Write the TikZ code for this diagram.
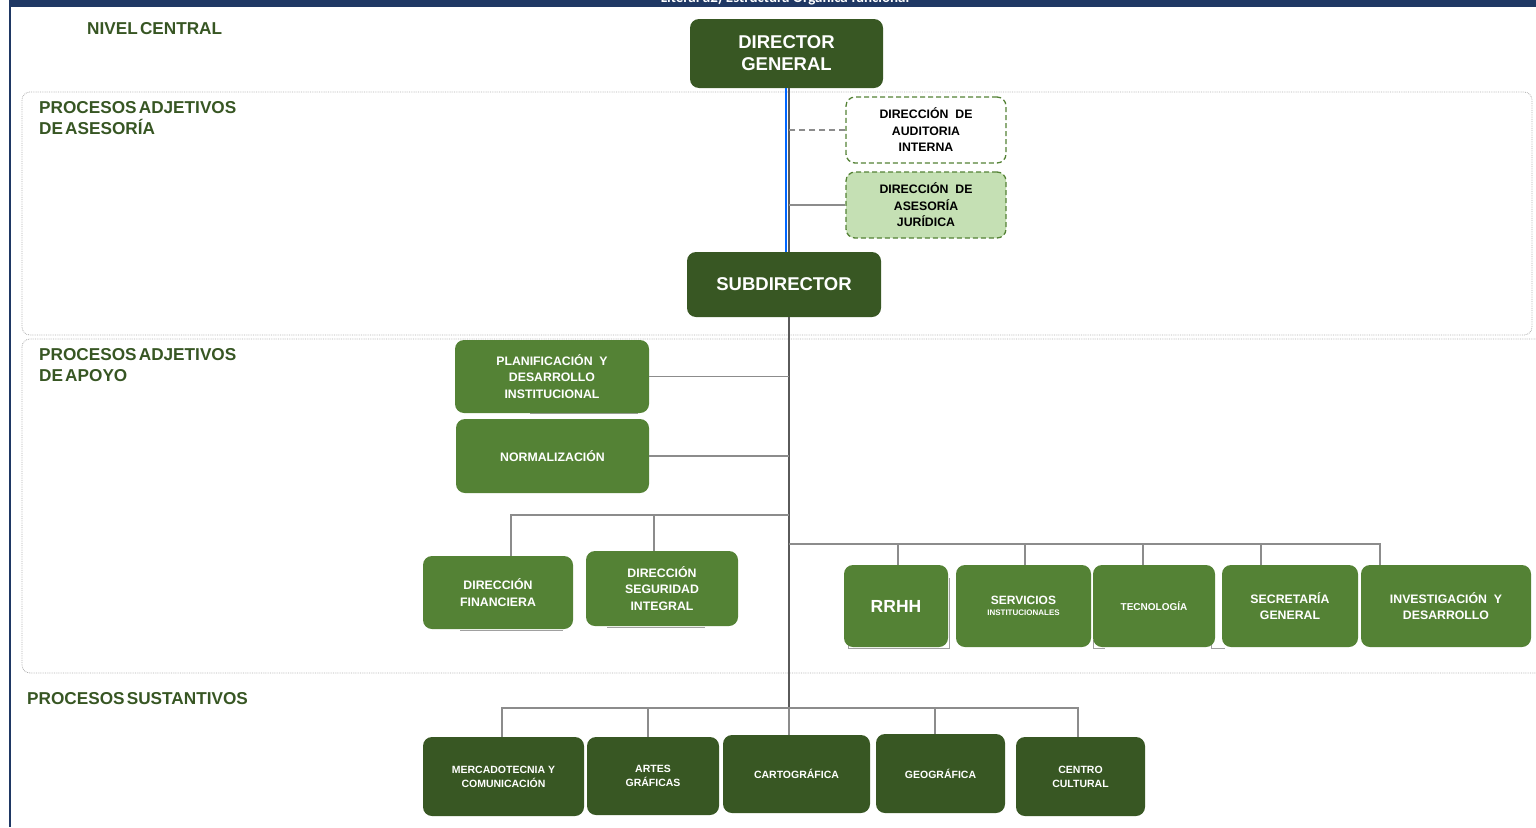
\documentclass[tikz,border=0pt]{standalone}
\usepackage{fontspec}
\setmainfont{Liberation Sans}
\newfontfamily\bannerfont{Carlito}
\newfontfamily\lblfont[WordSpace=0.45]{Liberation Sans}
\definecolor{dkgreen}{RGB}{56,87,35}
\definecolor{mdgreen}{RGB}{84,130,53}
\definecolor{ltgreen}{RGB}{197,224,180}
\definecolor{bordgreen}{RGB}{84,130,53}
\definecolor{navy}{RGB}{31,56,100}
\definecolor{lblgreen}{RGB}{55,86,35}
\definecolor{trunkgray}{RGB}{90,90,90}
\definecolor{conngray}{RGB}{140,140,140}
\definecolor{frmgray}{RGB}{175,175,175}
\definecolor{shadowgray}{RGB}{160,160,160}
\begin{document}
\begin{tikzpicture}[x=1pt,y=-1pt,
  box/.style={rounded corners=9pt, inner sep=0pt, align=center, text=white},
  dk/.style={box, fill=dkgreen},
  md/.style={box, fill=mdgreen},
  dashbox/.style={rounded corners=9pt, inner sep=0pt, align=center, text=black, draw=bordgreen, dash pattern=on 5pt off 3pt, line width=1.3pt},
  frame/.style={draw=frmgray, densely dotted, line width=0.8pt, rounded corners=8pt},
  trunk/.style={draw=trunkgray, line width=1.6pt},
  conn/.style={draw=conngray, line width=1.1pt},
  dconn/.style={draw=conngray, line width=1.2pt, dash pattern=on 6pt off 4pt},
  shadowline/.style={draw=shadowgray, line width=1pt},
  seclbl/.style={anchor=west, inner sep=0pt, text=lblgreen, align=left, font=\lblfont\bfseries\fontsize{17.2}{21}\selectfont},
  fbig/.style={font=\bfseries\fontsize{18.5}{22}\selectfont},
  fmid/.style={font=\bfseries\fontsize{12.3}{16.5}\selectfont},
  fsm/.style={font=\bfseries\fontsize{10.5}{14}\selectfont}
]
\useasboundingbox (0,0) rectangle (1536,827);
% banner
\fill[navy] (10,0) rectangle (1536,7.3);
\begin{scope}
\clip (10,0) rectangle (1536,7.3);
\node[anchor=base, inner sep=0pt, text=white, font=\bannerfont\bfseries\fontsize{15}{18}\selectfont] (banner) at (785,2.8) {Literal a2) Estructura Orgánica funcional};
\end{scope}
\draw[navy, line width=1.6pt] (10,0) -- (10,827);

% frames
\draw[frame] (22,92) rectangle (1532,335);
\draw[frame] (22,339) rectangle (1560,673);

% section labels
\node[seclbl] (lnc) at (87,29) {NIVEL CENTRAL};
\node[seclbl] (las) at (39,118.5) {PROCESOS ADJETIVOS\\DE ASESORÍA};
\node[seclbl] (lap) at (39,365) {PROCESOS ADJETIVOS\\DE APOYO};
\node[seclbl] (lsu) at (27,699) {PROCESOS SUSTANTIVOS};

% faint edges of boxes lying behind
\draw[shadowline] (530,413.5) -- (638,413.5);
\draw[shadowline] (460,630) -- (563,630);
\draw[shadowline] (607,627) -- (705,627);
\draw[shadowline] (848,640) -- (848,648.5) -- (949.5,648.5) -- (949.5,578);
\draw[shadowline] (1093,640) -- (1093,648.5) -- (1105,648.5);
\draw[shadowline] (1211,638) -- (1211,648.5) -- (1225,648.5);

% nodes
\node[dk, fbig, minimum width=193pt, minimum height=69pt] (DG) at (786.5,53.5) {DIRECTOR\\GENERAL};
\node[dashbox, fill=white, fmid, minimum width=160pt, minimum height=66pt] (AUD) at (926,130) {DIRECCIÓN~~DE\\AUDITORIA\\INTERNA};
\node[dashbox, fill=ltgreen, fmid, minimum width=160pt, minimum height=66pt] (JUR) at (926,205) {DIRECCIÓN~~DE\\ASESORÍA\\JURÍDICA};
\node[dk, fbig, minimum width=194pt, minimum height=65pt] (SUB) at (784,284.5) {SUBDIRECTOR};

\node[md, fmid, minimum width=194pt, minimum height=73pt] (PLAN) at (552,376.5) {PLANIFICACIÓN~~Y\\DESARROLLO\\INSTITUCIONAL};
\node[md, fmid, minimum width=193pt, minimum height=74pt] (NORM) at (552.5,456) {NORMALIZACIÓN};
\node[md, fmid, minimum width=150pt, minimum height=73pt] (FIN) at (498,592.5) {DIRECCIÓN\\FINANCIERA};
\node[md, fmid, minimum width=152pt, minimum height=75pt] (SEG) at (662,588.5) {DIRECCIÓN\\SEGURIDAD\\INTEGRAL};

\node[md, font=\bfseries\fontsize{17.5}{20}\selectfont, minimum width=104pt, minimum height=82pt] (RRHH) at (896,606) {RRHH};
\node[md, minimum width=135pt, minimum height=82pt] (SERV) at (1023.5,606) {{\bfseries\fontsize{12}{13}\selectfont SERVICIOS}\\[-1pt]{\bfseries\fontsize{8}{9}\selectfont INSTITUCIONALES}};
\node[md, font=\bfseries\fontsize{10}{12}\selectfont, minimum width=122pt, minimum height=82pt] (TEC) at (1154,606) {TECNOLOGÍA};
\node[md, fmid, minimum width=136pt, minimum height=82pt] (SEC) at (1290,606) {SECRETARÍA\\GENERAL};
\node[md, fmid, minimum width=170pt, minimum height=82pt] (INV) at (1446,606) {INVESTIGACIÓN~~Y\\DESARROLLO};

\node[dk, fsm, minimum width=161pt, minimum height=79pt] (MER) at (503.5,776.5) {MERCADOTECNIA Y\\COMUNICACIÓN};
\node[dk, fsm, minimum width=132pt, minimum height=78pt] (ART) at (653,776) {ARTES\\GRÁFICAS};
\node[dk, fsm, minimum width=147pt, minimum height=78pt] (CAR) at (796.5,774) {CARTOGRÁFICA};
\node[dk, fsm, minimum width=129pt, minimum height=79pt] (GEO) at (940.5,773.5) {GEOGRÁFICA};
\node[dk, fsm, minimum width=129pt, minimum height=79pt] (CEN) at (1080.5,776.5) {CENTRO\\CULTURAL};

% coordinates
\coordinate (tr) at (789,0);
\coordinate (b1) at (789,515);
\coordinate (b2) at (789,544);
\coordinate (b3) at (789,708);

% connectors
\draw[trunk] ([xshift=2.5pt]DG.south) -- ([xshift=5pt]SUB.north);
\draw[draw=blue!60!cyan, line width=1.2pt] ([xshift=-0.5pt]DG.south) -- ([xshift=2pt]SUB.north);
\draw[dconn] (AUD.west) -- (AUD.west -| tr);
\draw[conn] (JUR.west) -- (JUR.west -| tr);
\draw[trunk] ([xshift=5pt]SUB.south) -- (b3);
\draw[conn] (PLAN.east) -- (PLAN.east -| tr);
\draw[conn] (NORM.east) -- (NORM.east -| tr);
\draw[conn] (b1) -| ([xshift=13pt]FIN.north);
\draw[conn] (b1) -| ([xshift=-8pt]SEG.north);
\draw[conn] (b2) -| ([xshift=2pt]RRHH.north);
\draw[conn] (b2) -| ([xshift=1.5pt]SERV.north);
\draw[conn] (b2) -| ([xshift=-11pt]TEC.north);
\draw[conn] (b2) -| ([xshift=-29pt]SEC.north);
\draw[conn] (b2) -| ([xshift=-66pt]INV.north);
\draw[conn] (b3) -| ([xshift=-1.5pt]MER.north);
\draw[conn] (b3) -| ([xshift=-5pt]ART.north);
\draw[conn] (b3) -| ([xshift=-7.5pt]CAR.north);
\draw[conn] (b3) -| ([xshift=-5.5pt]GEO.north);
\draw[conn] (b3) -| ([xshift=-2.5pt]CEN.north);
\end{tikzpicture}
\end{document}
